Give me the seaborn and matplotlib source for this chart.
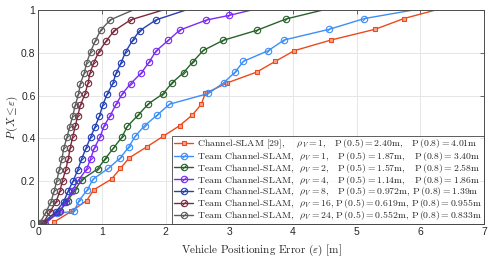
import numpy as np
import pandas as pd
import matplotlib
matplotlib.use("Agg")
import matplotlib.pyplot as plt
import seaborn as sns
from matplotlib.path import Path

# --- CDF curves (x = error in m, y = probability) ---
red_x = [0.25, 0.52, 0.76, 0.87, 1.15, 1.29, 1.43, 1.70, 1.96, 2.22, 2.42, 2.56, 2.62,
         2.97, 3.43, 3.72, 4.02, 4.60, 5.29, 5.74, 6.24]
red_y = [0.01, 0.06, 0.11, 0.16, 0.21, 0.26, 0.31, 0.36, 0.41, 0.46, 0.51, 0.56, 0.61,
         0.66, 0.71, 0.76, 0.81, 0.86, 0.91, 0.96, 1.00]

lblue_x = [0.05, 0.30, 0.56, 0.64, 0.77, 0.86, 1.10, 1.29, 1.42, 1.52, 1.67, 1.87, 2.06,
           2.67, 2.91, 3.09, 3.22, 3.61, 3.86, 4.57, 5.12, 5.89]
lblue_y = [0.00, 0.05, 0.06, 0.11, 0.16, 0.21, 0.26, 0.31, 0.36, 0.41, 0.46, 0.51, 0.56,
           0.61, 0.66, 0.71, 0.76, 0.81, 0.86, 0.91, 0.96, 1.00]

green_x = [0.07, 0.34, 0.46, 0.58, 0.68, 0.93, 1.05, 1.18, 1.31, 1.40, 1.57, 1.73, 1.96,
           2.10, 2.28, 2.43, 2.59, 2.90, 3.44, 3.89, 4.47]
green_y = [0.00, 0.06, 0.11, 0.16, 0.207, 0.257, 0.305, 0.355, 0.405, 0.457, 0.51, 0.562,
           0.609, 0.66, 0.707, 0.759, 0.811, 0.858, 0.906, 0.958, 1.00]

purple_x = [0.10, 0.32, 0.44, 0.53, 0.63, 0.76, 0.82, 0.88, 0.97, 1.03, 1.13, 1.22, 1.32,
            1.45, 1.62, 1.74, 1.85, 2.04, 2.22, 2.64, 3.00, 3.35]
purple_y = [0.00, 0.055, 0.105, 0.155, 0.205, 0.257, 0.305, 0.355, 0.407, 0.457, 0.507,
            0.559, 0.609, 0.656, 0.707, 0.757, 0.809, 0.858, 0.906, 0.953, 0.975, 1.00]

dblue_x = [0.05, 0.28, 0.40, 0.47, 0.55, 0.62, 0.68, 0.75, 0.82, 0.89, 0.96, 1.01, 1.08,
           1.17, 1.22, 1.30, 1.37, 1.48, 1.59, 1.85, 2.32]
dblue_y = [0.00, 0.058, 0.105, 0.155, 0.203, 0.254, 0.304, 0.355, 0.405, 0.454, 0.504,
           0.555, 0.606, 0.657, 0.704, 0.754, 0.804, 0.858, 0.903, 0.954, 1.00]

maroon_x = [0.07, 0.18, 0.28, 0.34, 0.38, 0.43, 0.47, 0.50, 0.54, 0.58, 0.62, 0.66, 0.73,
            0.78, 0.81, 0.87, 0.95, 1.06, 1.19, 1.45, 1.96]
maroon_y = [0.003, 0.055, 0.105, 0.155, 0.203, 0.254, 0.304, 0.355, 0.407, 0.457, 0.507,
            0.554, 0.606, 0.657, 0.704, 0.754, 0.804, 0.853, 0.903, 0.954, 1.00]

gray_x = [0.02, 0.12, 0.20, 0.25, 0.29, 0.33, 0.37, 0.40, 0.45, 0.49, 0.54, 0.58, 0.63,
          0.66, 0.72, 0.76, 0.82, 0.89, 0.98, 1.13, 1.49]
gray_y = [0.003, 0.055, 0.105, 0.155, 0.203, 0.254, 0.304, 0.355, 0.405, 0.452, 0.504,
          0.554, 0.606, 0.656, 0.704, 0.754, 0.804, 0.853, 0.906, 0.954, 1.00]

labels = [
    r"Channel-SLAM [29],    $\rho_V=1$,   P$\,(0.5)=2.40$m,   P$\,(0.8)=4.01$m",
    r"Team Channel-SLAM,  $\rho_V=1$,   P$\,(0.5)=1.87$m,   P$\,(0.8)=3.40$m",
    r"Team Channel-SLAM,  $\rho_V=2$,   P$\,(0.5)=1.57$m,   P$\,(0.8)=2.58$m",
    r"Team Channel-SLAM,  $\rho_V=4$,   P$\,(0.5)=1.14$m,   P$\,(0.8)=1.86$m",
    r"Team Channel-SLAM,  $\rho_V=8$,   P$\,(0.5)=0.972$m, P$\,(0.8)=1.39$m",
    r"Team Channel-SLAM,  $\rho_V=16$, P$\,(0.5)=0.619$m, P$\,(0.8)=0.955$m",
    r"Team Channel-SLAM,  $\rho_V=24$, P$\,(0.5)=0.552$m, P$\,(0.8)=0.833$m",
]
colors = ["#EC4A1C", "#3D8EF8", "#27632A", "#7B2BF5", "#2440B4", "#7A2B3E", "#5E5E5E"]
series = [(red_x, red_y), (lblue_x, lblue_y), (green_x, green_y), (purple_x, purple_y),
          (dblue_x, dblue_y), (maroon_x, maroon_y), (gray_x, gray_y)]

# circle with a slash, like the original markers
circ = Path.unit_circle()
slash = Path([[-0.72, -0.72], [0.72, 0.72]], [Path.MOVETO, Path.LINETO])
slashed_circle = Path.make_compound_path(circ, slash)

sns.set_style("white")
plt.rcParams["mathtext.fontset"] = "cm"
plt.rcParams["axes.formatter.use_mathtext"] = True

fig = plt.figure(figsize=(4.91, 2.63), dpi=100)
ax = fig.add_axes([0.078, 0.148, 0.908, 0.814])

for i, ((xs, ys), lab, col) in enumerate(zip(series, labels, colors)):
    df = pd.DataFrame({"x": xs, "y": ys})
    if i == 0:
        mk = dict(marker="s", markersize=3.4, markerfacecolor="#F7A48C",
                  markeredgecolor=col, markeredgewidth=0.8)
    else:
        mk = dict(marker=slashed_circle, markersize=4.6, markerfacecolor="none",
                  markeredgecolor=col, markeredgewidth=0.8)
    sns.lineplot(data=df, x="x", y="y", ax=ax, color=col, linewidth=1.0,
                 estimator=None, sort=False, label=lab,
                 markevery=slice(0, len(xs) - 1), **mk)

ax.set_xlim(0, 7)
ax.set_ylim(0, 1)
ax.set_xticks(range(0, 8))
ax.set_yticks([0, 0.2, 0.4, 0.6, 0.8, 1])
ax.set_xticklabels([str(v) for v in range(0, 8)])
ax.set_yticklabels(["0", "0.2", "0.4", "0.6", "0.8", "1"])
ax.grid(True, color="#E6E6E6", linewidth=0.7)
for s in ax.spines.values():
    s.set_color("#4D4D4D")
    s.set_linewidth(0.7)
ax.tick_params(direction="in", length=3, width=0.6, color="#4D4D4D",
               top=True, right=True, labelsize=7.5, pad=2)
for t in ax.get_xticklabels() + ax.get_yticklabels():
    t.set_fontfamily("Liberation Sans")
    t.set_color("#262626")

ax.set_xlabel(r"Vehicle Positioning Error ($\varepsilon$) [m]", fontfamily="cmr10",
              fontsize=8, labelpad=4)
ax.set_ylabel(r"$P\,(X \leq \varepsilon)$", fontsize=8, labelpad=1)

leg = ax.legend(loc="lower right", frameon=True, fancybox=False,
                borderaxespad=0, handlelength=2.0, handletextpad=0.4,
                labelspacing=-0.12, borderpad=0.2, prop={"family": "cmr10", "size": 7})
leg.get_frame().set_edgecolor("#333333")
leg.get_frame().set_linewidth(0.7)

fig.savefig("out.png", dpi=100)
